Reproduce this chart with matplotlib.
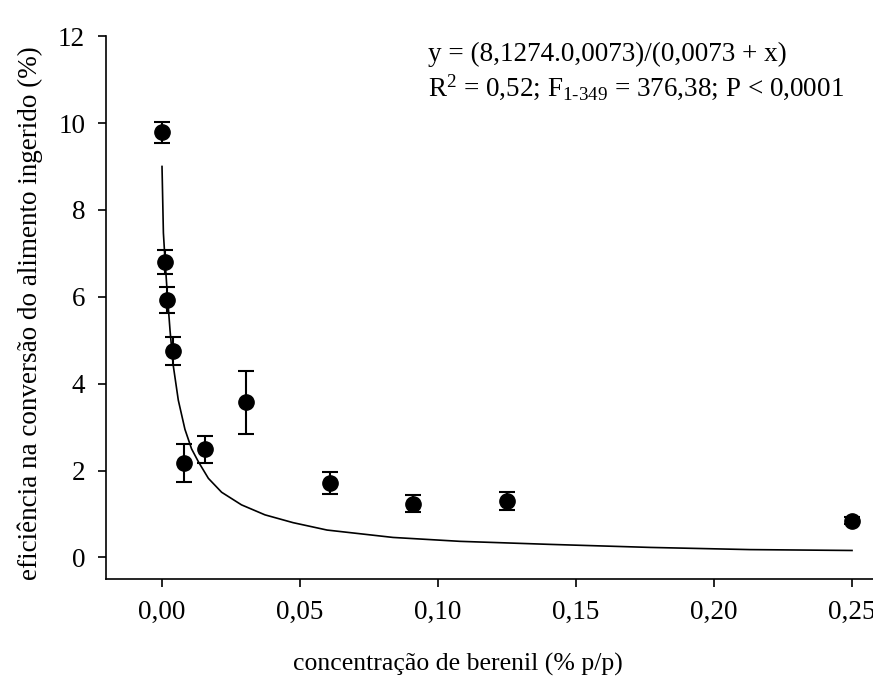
import numpy as np
import matplotlib
matplotlib.use("Agg")
import matplotlib.pyplot as plt

plt.rcParams['font.family'] = ['Liberation Serif', 'DejaVu Serif']
plt.rcParams['mathtext.fontset'] = 'custom'
plt.rcParams['mathtext.rm'] = 'Liberation Serif'
plt.rcParams['mathtext.it'] = 'Liberation Serif:italic'

# concentracao de berenil (% p/p) e eficiencia media +- erro
conc = [0.0, 0.00098, 0.00195, 0.0039, 0.0078, 0.0156, 0.0306, 0.061, 0.091, 0.125, 0.25]
eci = [9.79, 6.80, 5.92, 4.75, 2.17, 2.49, 3.57, 1.72, 1.24, 1.30, 0.84]
erro = [0.24, 0.28, 0.30, 0.32, 0.43, 0.31, 0.73, 0.25, 0.20, 0.21, 0.08]

# curva ajustada
curva_x = [0.0, 0.0005, 0.0011, 0.0019, 0.0029, 0.0040, 0.0059, 0.0083, 0.0107,
           0.0132, 0.0168, 0.0216, 0.0288, 0.0373, 0.0475, 0.0598, 0.0837,
           0.108, 0.1406, 0.177, 0.213, 0.25]
curva_y = [9.0, 7.47, 6.84, 6.08, 5.23, 4.45, 3.62, 2.95, 2.5,
           2.2, 1.82, 1.5, 1.21, 0.98, 0.80, 0.63, 0.46,
           0.37, 0.30, 0.23, 0.18, 0.16]

fig = plt.figure(figsize=(8.73, 6.87), dpi=100)
ax = fig.add_axes([0.1214, 0.157, 0.8786, 0.7904])

ax.plot(curva_x, curva_y, color='black', lw=1.2)
ax.errorbar(conc, eci, yerr=erro, fmt='o', color='black', ms=11,
            ecolor='black', elinewidth=1.5, capsize=6, capthick=1.5)

ax.set_xlim(-0.0203, 0.2576)
ax.set_ylim(-0.5, 12)
xt = [0.0, 0.05, 0.10, 0.15, 0.20, 0.25]
ax.set_xticks(xt)
ax.set_xticklabels([('%.2f' % v).replace('.', ',') for v in xt])
ax.set_yticks(range(0, 13, 2))
ax.tick_params(direction='out', length=6, width=1.2, labelsize=19.5, pad=9)
for s in ['top', 'right']:
    ax.spines[s].set_visible(False)
for s in ['left', 'bottom']:
    ax.spines[s].set_linewidth(1.2)

ax.set_xlabel('concentração de berenil (% p/p)', fontsize=18.5)
ax.xaxis.set_label_coords(0.459, -0.135)
ax.set_ylabel('eficiência na conversão do alimento ingerido (%)', fontsize=19.5)
ax.yaxis.set_label_coords(-0.082, 0.49)

ax.text(0.0964, 11.57, 'y = (8,1274.0,0073)/(0,0073 + x)', fontsize=19.5, va='center')
ax.text(0.0964, 10.83, r'R$^{2}$ = 0,52; F$_{\mathrm{1\text{-}349}}$ = 376,38; P < 0,0001',
        fontsize=19.5, va='center')

fig.savefig('out.png', dpi=100)
